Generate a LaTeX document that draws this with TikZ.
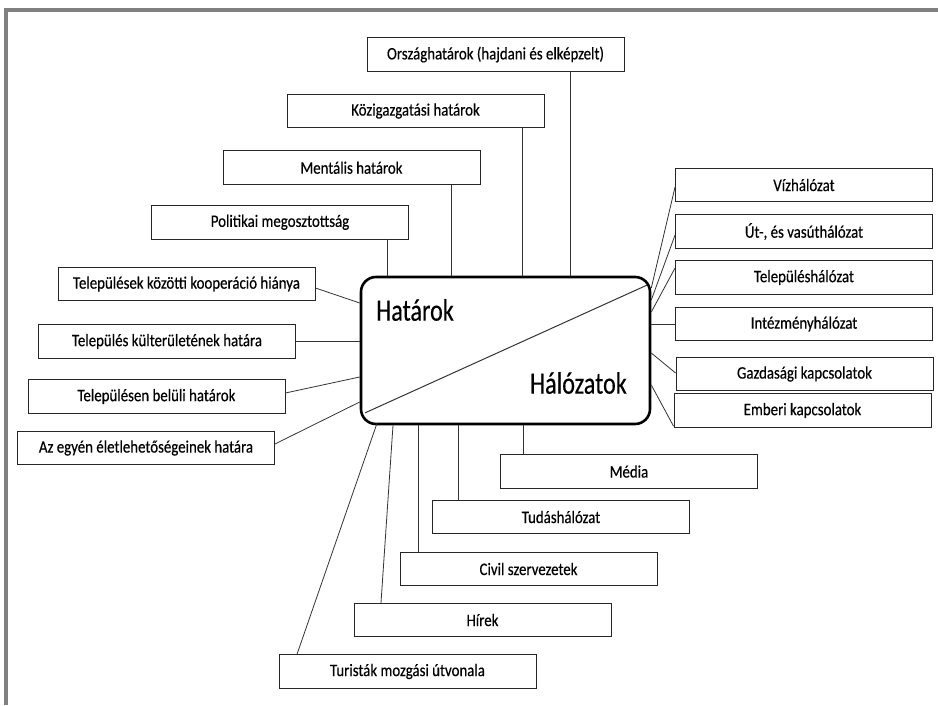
\documentclass[tikz,border=0pt]{standalone}
\usepackage{fontspec}
\setmainfont{Carlito}[FakeStretch=0.85, FakeBold=0.4]
\newfontfamily\hubfont{Carlito}[FakeStretch=0.78, FakeBold=0.4]
\tikzstyle{block} = [draw=black!85, line width=0.9pt, rectangle, minimum height=33.5pt, minimum width=257pt, inner sep=0pt, font=\fontsize{17.5}{20}\selectfont]
\tikzstyle{hub} = [draw, line width=2.6pt, rectangle, rounded corners=15pt, minimum width=289pt, minimum height=147pt]
\tikzstyle{link} = [draw=black!80, line width=0.8pt]
\tikzstyle{title} = [inner sep=0pt, font=\hubfont\fontsize{31}{36}\selectfont]

\begin{document}
\begin{tikzpicture}[x=1pt, y=1pt]

\useasboundingbox (0,0) rectangle (938,705);
\draw [black!50, line width=4pt] (6,0) |- (938,694.5);

\node [hub] (hub) at (505.5,354.5) {};
\draw [link, line width=1pt] ([shift={(5.5,12.5)}]hub.south west) -- ([shift={(-4.5,-9.5)}]hub.north east);
\node [title, anchor=west] (hatar) at (376,395) {Határok};
\node [title, anchor=east] (halo) at (627,322) {Hálózatok};

\node [block] (orsz) at (495.5,650.5) {Országhatárok (hajdani és elképzelt)};
\node [block] (kozig) at (415.5,594) {Közigazgatási határok};
\node [block] (ment) at (351.5,537.3) {Mentális határok};
\node [block] (polit) at (280,482.7) {Politikai megosztottság};

\node [block] (koop) at (186.5,421) {Települések közötti kooperáció hiánya};
\node [block] (kulter) at (167,363.5) {Település külterületének határa};
\node [block] (belul) at (156.5,308.5) {Településen belüli határok};
\node [block] (egyen) at (146,257) {Az egyén életlehetőségeinek határa};

\node [block] (viz) at (804,520) {Vízhálózat};
\node [block] (ut) at (804,473.5) {Út-, és vasúthálózat};
\node [block] (telep) at (804,427.5) {Településhálózat};
\node [block] (intez) at (804,381) {Intézményhálózat};
\node [block] (gazd) at (804.5,331) {Gazdasági kapcsolatok};
\node [block] (ember) at (802.5,294.5) {Emberi kapcsolatok};

\node [block] (media) at (629,233.5) {Média};
\node [block] (tudas) at (561,188) {Tudáshálózat};
\node [block] (civil) at (528.5,136) {Civil szervezetek};
\node [block] (hirek) at (482.5,85) {Hírek};
\node [block] (turist) at (407.5,33.5) {Turisták mozgási útvonala};

\draw [link] ([xshift=74.5pt]orsz.south) -- ([xshift=74.5pt]orsz.south |- hub.north);
\draw [link] ([xshift=106.5pt]kozig.south) -- ([xshift=106.5pt]kozig.south |- hub.north);
\draw [link] ([xshift=99.5pt]ment.south) -- ([xshift=99.5pt]ment.south |- hub.north);
\draw [link] ([xshift=107.5pt]polit.south) -- ([xshift=107.5pt]polit.south |- hub.north);

\draw [link] ([yshift=-4pt]koop.east) -- ([yshift=47.5pt]hub.west);
\draw [link] (kulter.east) -- (kulter.east -| hub.west);
\draw [link] ([yshift=3.5pt]belul.east) -- ([yshift=-26.5pt]hub.west);
\draw [link] ([yshift=4pt]egyen.east) -- ([yshift=-51.5pt]hub.west);

\draw [link] ([yshift=-2pt]viz.west) -- ([yshift=62.5pt]hub.east);
\draw [link] ([yshift=-3.5pt]ut.west) -- ([yshift=50.5pt]hub.east);
\draw [link] ([yshift=9.5pt]telep.west) -- ([yshift=38.5pt]hub.east);
\draw [link] (intez.west -| hub.east) -- (intez.west);
\draw [link] ([yshift=-2.5pt]hub.east) -- ([yshift=1pt]gazd.west);
\draw [link] ([yshift=-34.5pt]hub.east) -- ([yshift=1.5pt]ember.south west);

\draw [link] ([xshift=-106pt]media.north) -- ([xshift=-106pt]media.north |- hub.south);
\draw [link] ([xshift=-103pt]tudas.north) -- ([xshift=-103pt]tudas.north |- hub.south);
\draw [link] ([xshift=-110.5pt]civil.north) -- ([xshift=-110.5pt]civil.north |- hub.south);
\draw [link] ([xshift=-101.5pt]hirek.north) -- ([xshift=-112.5pt]hub.south);
\draw [link] ([xshift=-110.5pt]turist.north) -- ([xshift=-128.5pt,yshift=2pt]hub.south);

\end{tikzpicture}
\end{document}
